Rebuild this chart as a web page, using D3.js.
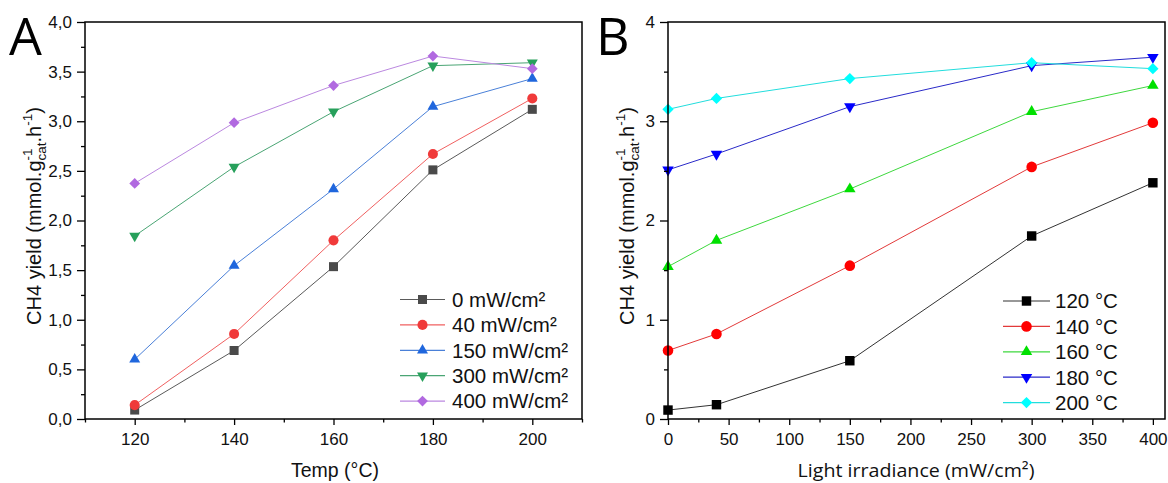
<!DOCTYPE html>
<html><head><meta charset="utf-8">
<script src="https://cdn.jsdelivr.net/npm/d3@7"></script>
<style>
html,body{margin:0;padding:0;background:#fff;}
svg{display:block;}
</style></head>
<body>
<svg id="chart" width="1168" height="483"></svg>
<script>
// ---------- DATA ----------
// Panel A: CH4 yield vs temperature, one series per light irradiance
const temps = [120, 140, 160, 180, 200];
const seriesA_names = ["0 mW/cm²", "40 mW/cm²", "150 mW/cm²", "300 mW/cm²", "400 mW/cm²"];
const yield_0mW   = [0.09, 0.69, 1.535, 2.51, 3.12];
const yield_40mW  = [0.14, 0.857, 1.80, 2.67, 3.23];
const yield_150mW = [0.60, 1.545, 2.317, 3.147, 3.43];
const yield_300mW = [1.844, 2.54, 3.096, 3.56, 3.59];
const yield_400mW = [2.374, 2.985, 3.36, 3.657, 3.53];
const ticksA_x = [120, 140, 160, 180, 200];
const ticksA_y = [0, 0.5, 1, 1.5, 2, 2.5, 3, 3.5, 4];

// Panel B: CH4 yield vs light irradiance, one series per temperature
const irradiances = [0, 40, 150, 300, 400];
const seriesB_names = ["120 °C", "140 °C", "160 °C", "180 °C", "200 °C"];
const yield_120C = [0.09, 0.144, 0.587, 1.844, 2.38];
const yield_140C = [0.69, 0.857, 1.545, 2.54, 2.985];
const yield_160C = [1.535, 1.80, 2.317, 3.096, 3.36];
const yield_180C = [2.51, 2.67, 3.147, 3.56, 3.645];
const yield_200C = [3.12, 3.23, 3.43, 3.59, 3.53];
const ticksB_x = [0, 50, 100, 150, 200, 250, 300, 350, 400];
const ticksB_y = [0, 1, 2, 3, 4];

// ---------- STYLE ----------
const svg = d3.select("#chart");
const FONT = "'Liberation Sans', Arial, sans-serif";

const stylesA = [
  {shape: "square", fill: "#4a4a4a", line: "#5a5a5a"},
  {shape: "circle", fill: "#f03a3a", line: "#f06060"},
  {shape: "triUp", fill: "#1f66dd", line: "#4a80d8"},
  {shape: "triDown", fill: "#27a05b", line: "#4aa574"},
  {shape: "diamond", fill: "#b169e0", line: "#bb88e0"}
];
const stylesB = [
  {shape: "square", fill: "#000000", line: "#333333"},
  {shape: "circle", fill: "#ff0000", line: "#e23a3a"},
  {shape: "triUp", fill: "#00e000", line: "#3ed83e"},
  {shape: "triDown", fill: "#0000ff", line: "#2a2ac8"},
  {shape: "diamond", fill: "#00ffff", line: "#22dddd"}
];

function symbolPath(shape, scale) {
  const s = scale || 1;
  switch (shape) {
    case "square": return {d: d3.symbol(d3.symbolSquare, 81 * s)(), rot: 0};
    case "circle": return {d: d3.symbol(d3.symbolCircle, 80 * s)(), rot: 0};
    case "triUp": return {d: d3.symbol(d3.symbolTriangle, 52 * s)(), rot: 0};
    case "triDown": return {d: d3.symbol(d3.symbolTriangle, 52 * s)(), rot: 180};
    case "diamond": return {d: d3.symbol(d3.symbolSquare, 58 * s)(), rot: 45};
  }
}

function drawMarker(g, shape, fill, x, y, scale) {
  const sp = symbolPath(shape, scale);
  g.append("path").attr("d", sp.d).attr("fill", fill)
    .attr("transform", `translate(${x},${y}) rotate(${sp.rot})`);
}

function yTitle(x, cy) {
  const g = svg.append("g").attr("transform", `translate(${x},${cy}) rotate(-90)`);
  const parts = [];
  let cur = 0;
  const big = 20, small = 13.5;
  function add(txt, size, dy) {
    const t = g.append("text").attr("font-family", FONT).attr("font-size", size)
      .attr("x", cur).attr("y", dy).attr("fill", "#111").text(txt);
    const w = t.node().getComputedTextLength();
    parts.push(t);
    return w;
  }
  cur += add("CH4 yield (mmol.g", big, 0);
  const w1 = add("-1", small, -9);
  const w2 = add("cat", small, 5);
  cur += Math.max(w1, w2);
  cur += add(".h", big, 0);
  cur += add("-1", small, -9);
  cur += add(")", big, 0);
  parts.forEach(p => p.attr("x", +p.attr("x") - cur / 2));
}

function panel(cfg) {
  const {left, right, top, bottom, xDomain, yDomain, xTicks, xMinor, yTicks, yMinor,
         xFmt, yFmt, xs, series, styles, names, legend, mScale, tickFont, legFont} = cfg;
  const x = d3.scaleLinear().domain(xDomain).range([left, right]);
  const y = d3.scaleLinear().domain(yDomain).range([bottom, top]);

  // lines + markers
  const line = d3.line().x((d, i) => x(xs[i])).y(d => y(d));
  series.forEach((vals, k) => {
    svg.append("path").attr("d", line(vals)).attr("fill", "none")
      .attr("stroke", styles[k].line).attr("stroke-width", 1);
  });
  series.forEach((vals, k) => {
    const g = svg.append("g");
    vals.forEach((v, i) => drawMarker(g, styles[k].shape, styles[k].fill, x(xs[i]), y(v), mScale));
  });

  // axes
  const xAx = svg.append("g").attr("transform", `translate(0,${bottom})`)
    .call(d3.axisBottom(x).tickValues(xTicks).tickFormat(xFmt).tickSize(6).tickSizeOuter(0));
  const xAxMinor = svg.append("g").attr("transform", `translate(0,${bottom})`)
    .call(d3.axisBottom(x).tickValues(xMinor).tickFormat("").tickSize(3.5).tickSizeOuter(0));
  const yAx = svg.append("g").attr("transform", `translate(${left},0)`)
    .call(d3.axisLeft(y).tickValues(yTicks).tickFormat(yFmt).tickSize(8).tickSizeOuter(0));
  const yAxMinor = svg.append("g").attr("transform", `translate(${left},0)`)
    .call(d3.axisLeft(y).tickValues(yMinor).tickFormat("").tickSize(4).tickSizeOuter(0));
  [xAx, xAxMinor, yAx, yAxMinor].forEach(a => {
    a.select(".domain").remove();
    a.selectAll("line").attr("stroke", "#000").attr("stroke-width", 1.3);
    a.selectAll("text").attr("font-family", FONT).attr("font-size", tickFont).attr("fill", "#111");
  });
  xAx.selectAll("text").attr("y", 14).attr("dy", "0.71em");
  yAx.selectAll("text").attr("x", -13);

  // frame
  svg.append("rect").attr("x", left).attr("y", top)
    .attr("width", right - left).attr("height", bottom - top)
    .attr("fill", "none").attr("stroke", "#000").attr("stroke-width", 1.5);

  // legend
  names.forEach((n, k) => {
    const cy = legend.y0 + k * legend.dy;
    svg.append("line").attr("x1", legend.x1).attr("x2", legend.x2)
      .attr("y1", cy).attr("y2", cy).attr("stroke", styles[k].line).attr("stroke-width", 1.2);
    const g = svg.append("g");
    drawMarker(g, styles[k].shape, styles[k].fill, (legend.x1 + legend.x2) / 2, cy, mScale);
    svg.append("text").attr("x", legend.tx).attr("y", cy).attr("dy", "0.36em")
      .attr("font-family", FONT).attr("font-size", legFont).attr("fill", "#111").text(n);
  });
  return {x, y};
}

// ---------- PANEL A ----------
panel({
  left: 85, right: 582, top: 22, bottom: 419,
  xDomain: [110, 210], yDomain: [0, 4],
  xTicks: ticksA_x, xMinor: [110, 130, 150, 170, 190, 210],
  yTicks: ticksA_y, yMinor: d3.range(0.25, 4, 0.5),
  xFmt: d3.format("d"), yFmt: d => d.toFixed(1).replace(".", ","),
  xs: temps,
  series: [yield_0mW, yield_40mW, yield_150mW, yield_300mW, yield_400mW],
  styles: stylesA, names: seriesA_names,
  legend: {x1: 400, x2: 445, tx: 452, y0: 299.5, dy: 25.4},
  mScale: 1, tickFont: 17, legFont: 20.5
});

// ---------- PANEL B ----------
panel({
  left: 668, right: 1165, top: 22, bottom: 419,
  xDomain: [0, 410], yDomain: [0, 4],
  xTicks: ticksB_x, xMinor: d3.range(25, 410, 50),
  yTicks: ticksB_y, yMinor: [0.5, 1.5, 2.5, 3.5],
  xFmt: d3.format("d"), yFmt: d3.format("d"),
  xs: irradiances,
  series: [yield_120C, yield_140C, yield_160C, yield_180C, yield_200C],
  styles: stylesB, names: seriesB_names,
  legend: {x1: 1003, x2: 1050, tx: 1055, y0: 301, dy: 25.4},
  mScale: 1.1, tickFont: 17, legFont: 20.5
});

// ---------- TITLES ----------
svg.append("text").attr("x", 335).attr("y", 477).attr("text-anchor", "middle")
  .attr("font-family", FONT).attr("font-size", 19.5).attr("fill", "#111").text("Temp (°C)");
svg.append("text").attr("x", 916).attr("y", 477).attr("text-anchor", "middle")
  .attr("font-family", "'Open Sans', 'Noto Sans', sans-serif").attr("font-size", 19)
  .attr("textLength", 237).attr("lengthAdjust", "spacingAndGlyphs")
  .attr("fill", "#111").text("Light irradiance (mW/cm²)");

yTitle(41, 216);
yTitle(634, 216);

svg.append("text").attr("x", 9).attr("y", 55).attr("font-family", "'Open Sans', 'Noto Sans', sans-serif")
  .attr("font-size", 52).attr("fill", "#000").text("A");
svg.append("text").attr("x", 596).attr("y", 55).attr("font-family", "'Open Sans', 'Noto Sans', sans-serif")
  .attr("font-size", 52).attr("fill", "#000").text("B");
</script>
</body></html>
